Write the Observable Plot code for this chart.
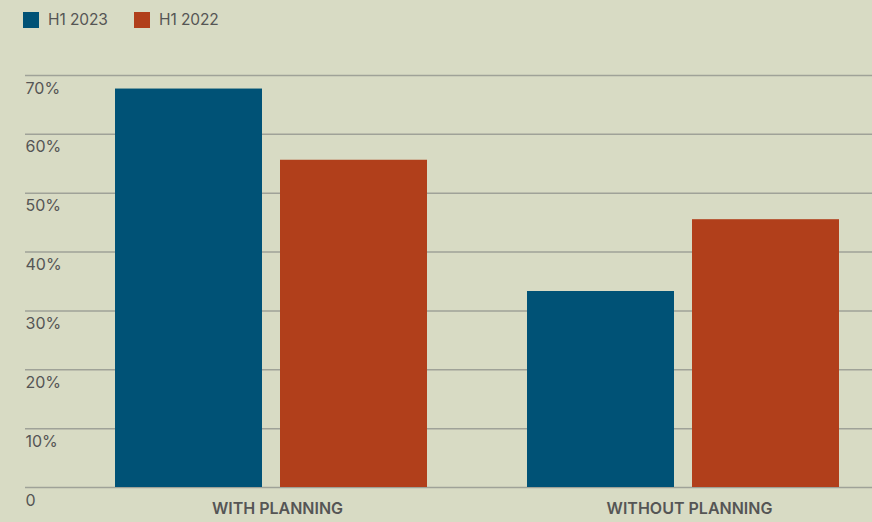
<!DOCTYPE html>
<html>
<head>
<meta charset="utf-8">
<script src="https://cdn.jsdelivr.net/npm/d3@7"></script>
<script src="https://cdn.jsdelivr.net/npm/@observablehq/plot@0.6"></script>
<style>
  html, body { margin: 0; padding: 0; background: #D8DBC4; }
  body { width: 872px; height: 522px; overflow: hidden; font-family: Inter, "Liberation Sans", sans-serif; }
  #legend { height: 40px; position: relative; }
  .item { position: absolute; top: 10px; display: flex; align-items: center; font-size: 15.5px; color: #555; letter-spacing: -0.1px; }
  .sw { width: 16px; height: 16px; margin-right: 9px; }
</style>
</head>
<body>
<div id="legend"></div>
<div id="chart"></div>
<script>
const categories = ["WITH PLANNING", "WITHOUT PLANNING"];
const seriesNames = ["H1 2023", "H1 2022"];
const h1_2023 = [67.7, 33.3];
const h1_2022 = [55.6, 45.5];
const yTicks = [0, 10, 20, 30, 40, 50, 60, 70];
const yTickLabels = ["0", "10%", "20%", "30%", "40%", "50%", "60%", "70%"];
const colors = ["#005276", "#B13F1B"];

const legend = document.getElementById("legend");
const legendX = [23, 134];
seriesNames.forEach((s, i) => {
  const d = document.createElement("div");
  d.className = "item";
  d.style.left = legendX[i] + "px";
  d.innerHTML = `<span class="sw" style="background:${colors[i]}"></span><span>${s}</span>`;
  legend.appendChild(d);
});

const rows = [];
categories.forEach((c, i) => {
  rows.push({category: c, series: seriesNames[0], value: h1_2023[i]});
  rows.push({category: c, series: seriesNames[1], value: h1_2022[i]});
});
const ticks = yTicks.map((t, i) => ({t, label: yTickLabels[i]}));

const chart = Plot.plot({
  width: 872,
  height: 482,
  marginLeft: 25,
  marginRight: 0,
  marginTop: 35,
  marginBottom: 35,
  style: {background: "transparent", fontFamily: "Inter, 'Liberation Sans', sans-serif"},
  x: {domain: categories, paddingInner: 0.242, paddingOuter: 0.1466, align: 0.736, axis: null},
  y: {domain: [0, 70], axis: null},
  marks: [
    Plot.ruleY(ticks, {y: "t", stroke: "#9fa298", strokeWidth: 1.5}),
    Plot.barY(rows.filter(d => d.series === seriesNames[0]), {x: "category", y: "value", fill: colors[0], insetRight: 165}),
    Plot.barY(rows.filter(d => d.series === seriesNames[1]), {x: "category", y: "value", fill: colors[1], insetLeft: 165}),
    Plot.text(ticks, {y: "t", text: "label", frameAnchor: "left", textAnchor: "start", dy: 13, fontSize: 16, fill: "#555"}),
    Plot.text(categories, {x: d => d, text: d => d, frameAnchor: "bottom", dy: 26, dx: 6, fontSize: 16, fontWeight: 600, fill: "#555"})
  ]
});
document.getElementById("chart").appendChild(chart);
</script>
</body>
</html>
